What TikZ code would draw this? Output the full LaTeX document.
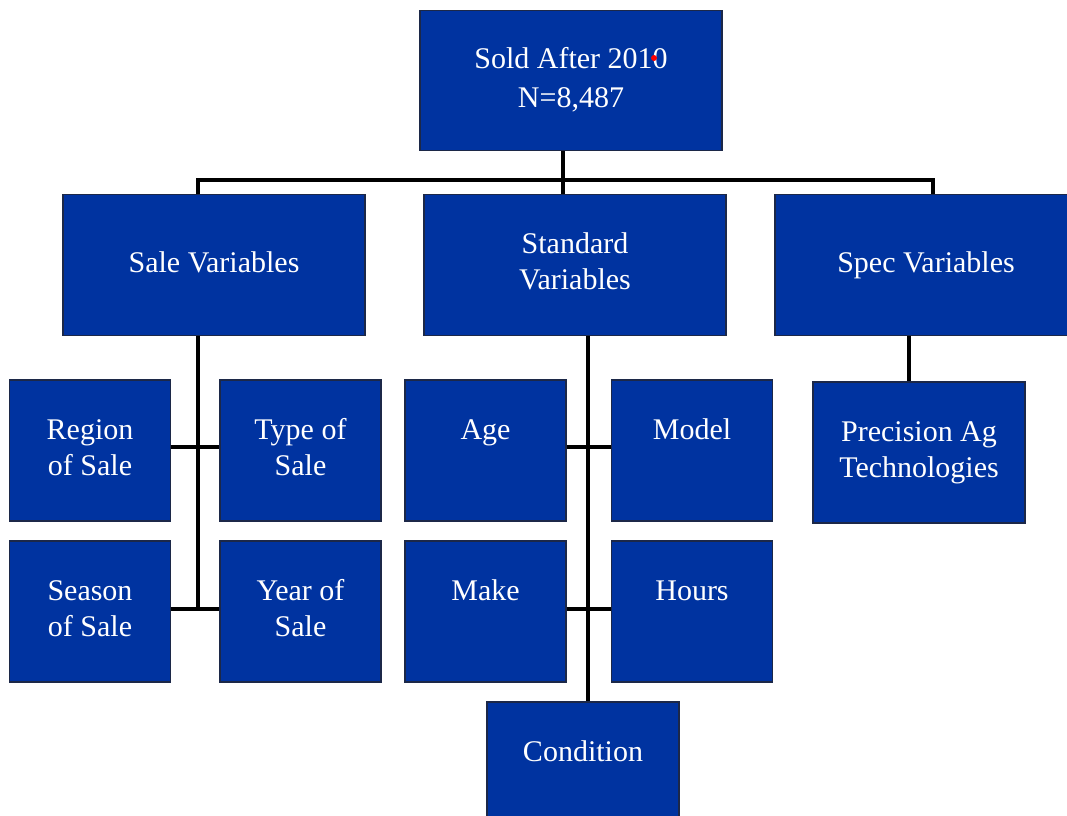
\documentclass[tikz,border=0pt]{standalone}
\usepackage{fontspec}
\setmainfont{Liberation Serif}
\definecolor{boxblue}{RGB}{0,51,160}
\definecolor{boxedge}{RGB}{28,40,72}
\begin{document}
\begin{tikzpicture}[x=0.75pt, y=-0.75pt,
    box/.style={draw=boxedge, line width=0.8pt, fill=boxblue, text=white, align=center,
        font=\fontsize{22.5}{27}\selectfont, inner sep=0pt},
    headbox/.style={box, minimum width=226.5pt, minimum height=105.5pt},
    subbox/.style={box, minimum width=120.75pt, minimum height=105.75pt},
    conn/.style={line width=2.8pt, black}]
    \useasboundingbox (0,0) rectangle (1067,816);
    \clip (0,0) rectangle (1067,816);

        \node[headbox] (top) at (571,80.5) {Sold After 2010\strut\\[2pt]N=8,487\strut\\[-19pt]\mbox{}};
        \fill[red] (654,58) circle[radius=3];

        \node[headbox] (sale) at (214,265) {Sale Variables\strut};
        \node[headbox] (std) at (575,265) {Standard\strut\\Variables\strut\\[-18pt]\mbox{}};
        \node[headbox] (spec) at (926,265) {Spec Variables\strut};

        \node[subbox] (region) at (90,450.5) {Region\strut\\of Sale\strut};
        \node[subbox] (type) at (300.5,450.5) {Type of\strut\\Sale\strut};
        \node[subbox] (season) at (90,611.5) {Season\strut\\of Sale\strut};
        \node[subbox] (year) at (300.5,611.5) {Year of\strut\\Sale\strut};

        \node[subbox] (age) at (485.5,450.5) {Age\strut\\\strut};
        \node[subbox] (model) at (692,450.5) {Model\strut\\\strut};
        \node[subbox] (make) at (485.5,611.5) {Make\strut\\\strut};
        \node[subbox] (hours) at (692,611.5) {Hours\strut\\\strut};
        \node[subbox, minimum width=144pt] (cond) at (583,772.5) {Condition\strut\\\strut};

        \node[subbox, minimum width=159pt] (prec) at (919,452.5) {Precision Ag\strut\\Technologies\strut};

        \coordinate (busL) at (198,180);
        \coordinate (busM) at (563,180);
        \coordinate (busR) at (933,180);
        \coordinate (trunkS) at (588,0);
        \coordinate (trunkP) at (909,0);

        \draw[conn] (top.south -| busM) -- (std.north -| busM);
        \draw[conn] (sale.north -| busL) |- (busR) -- (spec.north -| busR);

        \draw[conn] (sale.south -| busL) -- ([yshift=2pt]season.east -| busL);
        \draw[conn] ([yshift=2.5pt]region.east) -- ([yshift=2.5pt]type.west);
        \draw[conn] ([yshift=2pt]season.east) -- ([yshift=2pt]year.west);

        \draw[conn] (std.south -| trunkS) -- (cond.north -| trunkS);
        \draw[conn] ([yshift=2.5pt]age.east) -- ([yshift=2.5pt]model.west);
        \draw[conn] ([yshift=2pt]make.east) -- ([yshift=2pt]hours.west);

        \draw[conn] (spec.south -| trunkP) -- (prec.north -| trunkP);
\end{tikzpicture}
\end{document}
